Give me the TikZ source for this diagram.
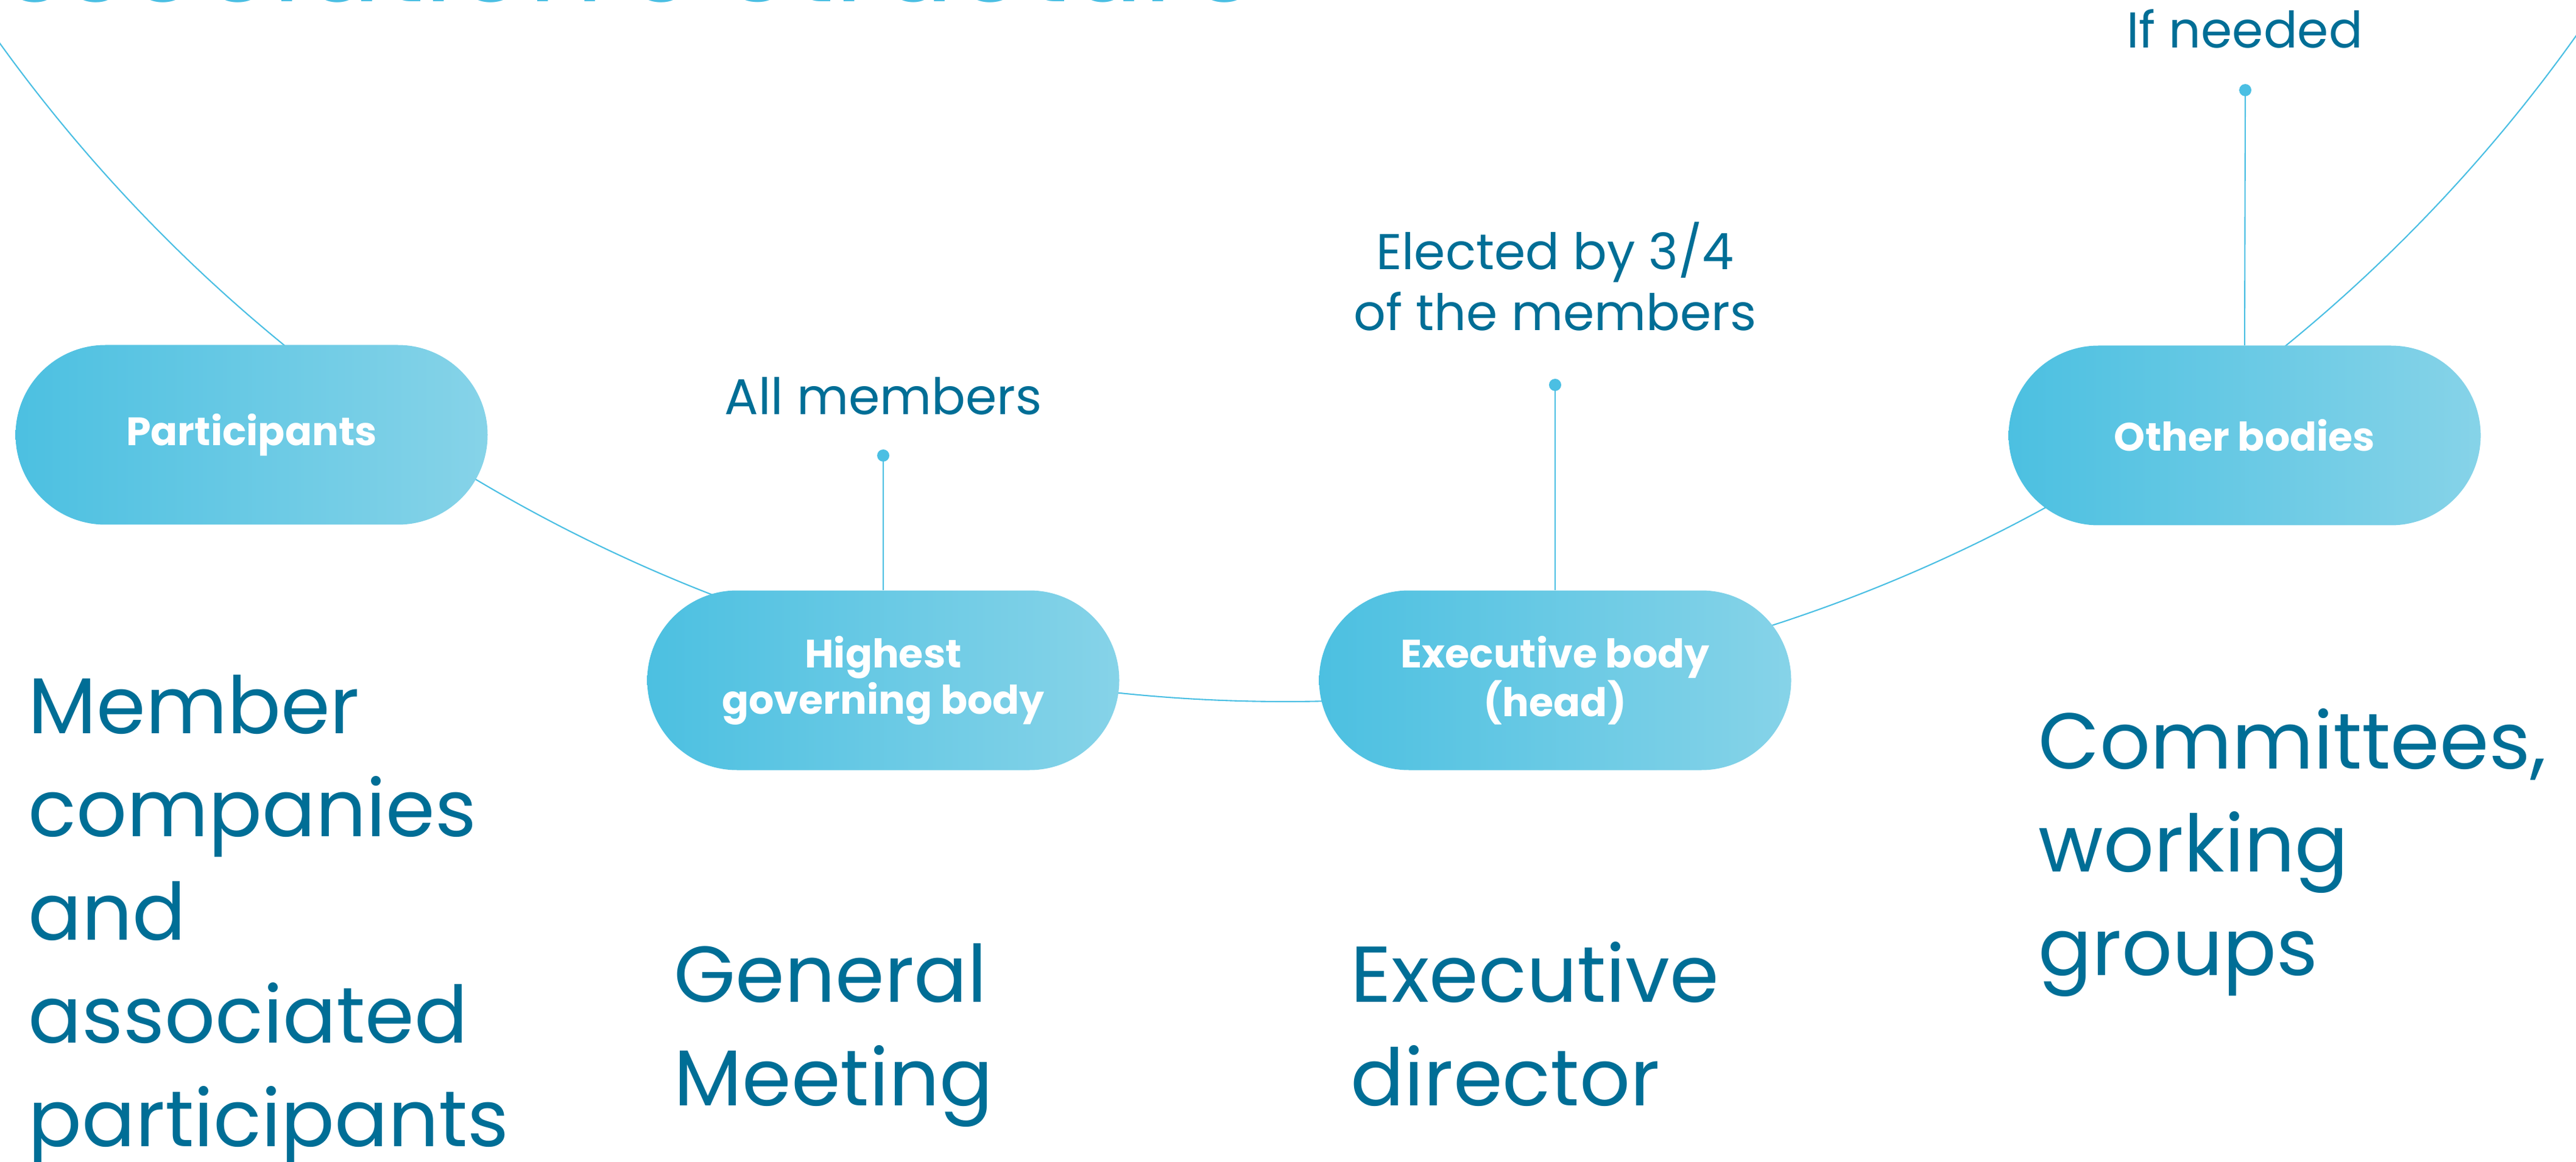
\documentclass[tikz,border=0pt]{standalone}
\usepackage{fontspec}
\setmainfont{Poppins}
\definecolor{deepteal}{RGB}{0,110,150}
\definecolor{skyline}{RGB}{75,191,227}
\definecolor{pillleft}{RGB}{76,192,225}
\definecolor{pillright}{RGB}{134,211,232}
\tikzset{
	pill/.style={rectangle, rounded corners=14.75mm, minimum width=7.75cm, minimum height=2.95cm, left color=pillleft, right color=pillright, text=white, align=center, inner sep=0pt, font=\fontsize{18.5}{21.6}\selectfont\bfseries},
	tag/.style={text=deepteal, align=center, inner sep=0pt, anchor=base, font=\fontsize{23.5}{28.7}\selectfont},
	bigtext/.style={text=deepteal, align=left, inner sep=0pt, anchor=base west, font=\fontsize{37}{48.2}\selectfont},
	pin/.style={circle, fill=skyline, inner sep=0pt, minimum size=2mm},
	wire/.style={draw=skyline, line width=0.6pt},
}

\begin{document}
\begin{tikzpicture}
		%%%%% START %%%%%
		\useasboundingbox (0, 0) rectangle (42.29, 19.07);
		\clip (0, 0) rectangle (42.29, 19.07);
		
		\node[anchor=base east, text=skyline, inner sep=0pt, font=\fontsize{55}{60}\selectfont] (title) at (20.7, 19.04) {Association's Structure};
		
		% the big arc behind the bodies
		\coordinate (hub) at (21.10, 33.55);
		\draw[wire] (hub) circle (26);
		
		\node[pin] (dotAll) at (14.50, 11.59) {};
		\node[pin] (dotElect) at (25.53, 12.75) {};
		\node[pin] (dotNeed) at (36.86, 17.59) {};
		
		\node[pill] (part) at (4.13, 11.93) {Participants};
		\node[pill] (hgb) at (14.50, 7.90) {Highest\\governing body};
		\node[pill] (exec) at (25.53, 7.90) {Executive body\\(head)};
		\node[pill] (other) at (36.85, 11.92) {Other bodies};
		
		\draw[wire] (dotAll.center) -- (hgb.north);
		\draw[wire] (dotElect.center) -- (exec.north);
		\draw[wire] (dotNeed.center) -- (other.north);
		
		% multi-line nodes sit on the baseline of their last line
		\node[tag] (allTag) at (14.50, 12.26) {All members};
		\node[tag] (electTag) at (25.53, 13.64) {Elected by 3/4\\of the members};
		\node[tag] (needTag) at (36.85, 18.28) {If needed};
		
		\node[bigtext] (memberText) at (0.46, 0.25) {Member\\companies\\and\\associated\\participants};
		\node[bigtext] (gmText) at (11.06, 0.92) {General\\Meeting};
		\node[bigtext] (edText) at (22.17, 0.92) {Executive\\director};
		\node[bigtext] (cwgText) at (33.46, 3.06) {Committees,\\working\\groups};
		
		%%%%% END %%%%%
\end{tikzpicture}
\end{document}
